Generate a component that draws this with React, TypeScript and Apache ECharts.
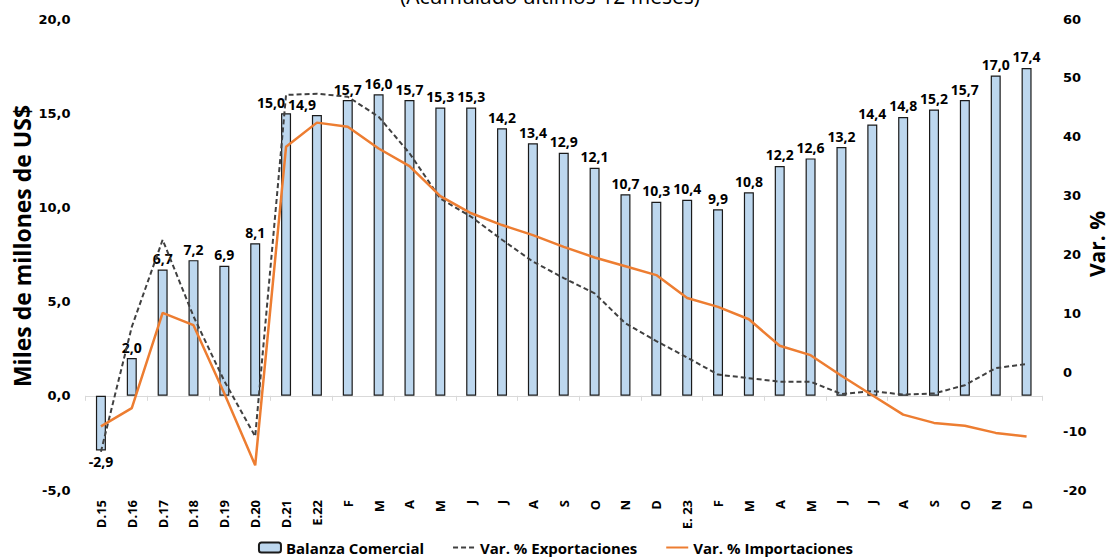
import React, { useEffect, useRef } from "react";
import * as echarts from "echarts";

const categories = [
  "D.15", "D.16", "D.17", "D.18", "D.19", "D.20", "D.21", "E.22",
  "F", "M", "A", "M", "J", "J", "A", "S", "O", "N", "D",
  "E. 23", "F", "M", "A", "M", "J", "J", "A", "S", "O", "N", "D",
];

const balanza = [
  -2.9, 2.0, 6.7, 7.2, 6.9, 8.1, 15.0, 14.9,
  15.7, 16.0, 15.7, 15.3, 15.3, 14.2, 13.4, 12.9, 12.1, 10.7, 10.3,
  10.4, 9.9, 10.8, 12.2, 12.6, 13.2, 14.4, 14.8, 15.2, 15.7, 17.0, 17.4,
];

const varExport = [
  -13.5, 7.7, 22.5, 9.5, -1.5, -10.9, 47.1, 47.3,
  46.8, 43.4, 37.2, 29.5, 26.4, 22.5, 18.8, 16.0, 13.4, 8.3, 5.3,
  2.5, -0.4, -1.0, -1.6, -1.6, -3.7, -3.2, -3.8, -3.6, -2.2, 0.7, 1.4,
];

const varImport = [
  -9.2, -6.1, 10.1, 8.0, -3.6, -15.8, 38.3, 42.4,
  41.7, 38.0, 35.0, 29.9, 27.0, 25.0, 23.3, 21.3, 19.5, 18.0, 16.5,
  12.6, 11.1, 9.0, 4.5, 2.9, -0.6, -3.9, -7.2, -8.6, -9.1, -10.3, -10.9,
];

const leftTicks = { min: -5, max: 20, interval: 5 };
const rightTicks = { min: -20, max: 60, interval: 10 };

const titleText = "(Acumulado últimos 12 meses)";
const leftName = "Miles de millones de US$";
const rightName = "Var. %";

const fmt = (v: number) => v.toFixed(1).replace(".", ",");

const CAL = '"Open Sans", "Noto Sans", sans-serif';
const ARI = '"DejaVu Sans", "Liberation Sans", sans-serif';

export default function App() {
  const ref = useRef<HTMLDivElement>(null);

  useEffect(() => {
    if (!ref.current) return;
    const chart = echarts.init(ref.current, undefined, { renderer: "svg" });

    const barData = balanza.map((v, i) => {
      const item: any = { value: v };
      if (v < 0) item.label = { position: "bottom" };
      else if (i === 6 || i === 7) item.label = { offset: [-15, 0] };
      return item;
    });

    chart.setOption({
      animation: false,
      backgroundColor: "#ffffff",
      textStyle: { fontFamily: CAL },
      graphic: [
        {
          type: "text",
          x: 550,
          y: 6,
          style: {
            text: titleText,
            align: "center",
            verticalAlign: "bottom",
            fontSize: 21,
            fontFamily: CAL,
            fill: "#000",
          },
        },
        {
          type: "text",
          x: 22,
          y: 246,
          rotation: Math.PI / 2,
          style: {
            text: leftName,
            align: "center",
            verticalAlign: "middle",
            fontSize: 23,
            lineHeight: 24,
            fontWeight: "bold",
            fontFamily: CAL,
            fill: "#000",
          },
        },
        {
          type: "text",
          x: 1097,
          y: 244,
          rotation: Math.PI / 2,
          style: {
            text: rightName,
            align: "center",
            verticalAlign: "middle",
            fontSize: 21,
            lineHeight: 22,
            fontWeight: "bold",
            fontFamily: CAL,
            fill: "#000",
          },
        },
      ],
      grid: {
        left: 85.5,
        right: 69,
        top: 19,
        bottom: 70,
        containLabel: false,
        outerBoundsMode: "none",
      },
      legend: {
        bottom: 0,
        left: "center",
        itemWidth: 22,
        itemHeight: 10,
        itemGap: 28,
        textStyle: { fontFamily: CAL, fontWeight: "bold", fontSize: 15, color: "#000" },
        data: [
          { name: "Balanza Comercial" },
          { name: "Var. % Exportaciones", itemStyle: { opacity: 0 } },
          { name: "Var. % Importaciones", itemStyle: { opacity: 0 } },
        ],
      },
      xAxis: [
        {
          type: "category",
          data: categories,
          position: "bottom",
          axisLine: { show: false, onZero: false },
          axisTick: { show: false },
          axisLabel: {
            rotate: 90,
            margin: 10,
            fontFamily: CAL,
            fontWeight: "bold",
            fontSize: 13,
            color: "#000",
            interval: 0,
          },
        },
        {
          type: "category",
          data: categories,
          position: "bottom",
          axisLine: {
            show: true,
            onZero: true,
            onZeroAxisIndex: 0,
            lineStyle: { color: "#d9d9d9", width: 1 },
          },
          axisTick: { show: true, length: 5, lineStyle: { color: "#d9d9d9" } },
          axisLabel: { show: false },
        },
      ],
      yAxis: [
        {
          type: "value",
          min: leftTicks.min,
          max: leftTicks.max,
          interval: leftTicks.interval,
          splitLine: { show: false },
          axisLine: { show: false },
          axisTick: { show: false },
          axisLabel: {
            formatter: (v: number) => fmt(v),
            fontFamily: ARI,
            fontWeight: "bold",
            fontSize: 13,
            color: "#000",
            margin: 15,
          },
        },
        {
          type: "value",
          min: rightTicks.min,
          max: rightTicks.max,
          interval: rightTicks.interval,
          splitLine: { show: false },
          axisLine: { show: false },
          axisTick: { show: false },
          axisLabel: {
            fontFamily: ARI,
            fontWeight: "bold",
            fontSize: 13,
            color: "#000",
            margin: 21,
          },
        },
      ],
      series: [
        {
          name: "Balanza Comercial",
          type: "bar",
          xAxisIndex: 0,
          yAxisIndex: 0,
          barWidth: 10,
          data: barData,
          itemStyle: { color: "#BDD7EE", borderColor: "#1a1a1a", borderWidth: 1.2 },
          label: {
            show: true,
            position: "top",
            distance: 4,
            formatter: (p: any) => fmt(p.value),
            fontFamily: CAL,
            fontWeight: "bold",
            fontSize: 14,
            color: "#000",
          },
          z: 2,
        },
        {
          name: "Var. % Exportaciones",
          type: "line",
          xAxisIndex: 0,
          yAxisIndex: 1,
          data: varExport,
          symbol: "none",
          lineStyle: { color: "#404040", width: 2, type: [5, 3] },
          itemStyle: { color: "#404040" },
          z: 3,
        },
        {
          name: "Var. % Importaciones",
          type: "line",
          xAxisIndex: 0,
          yAxisIndex: 1,
          data: varImport,
          symbol: "none",
          lineStyle: { color: "#ED7D31", width: 2.5 },
          itemStyle: { color: "#ED7D31" },
          z: 4,
        },
      ],
    });

    return () => chart.dispose();
  }, []);

  return (
    <div
      ref={ref}
      style={{ position: "fixed", left: 0, top: 0, width: 1111, height: 560, background: "#fff" }}
    />
  );
}
